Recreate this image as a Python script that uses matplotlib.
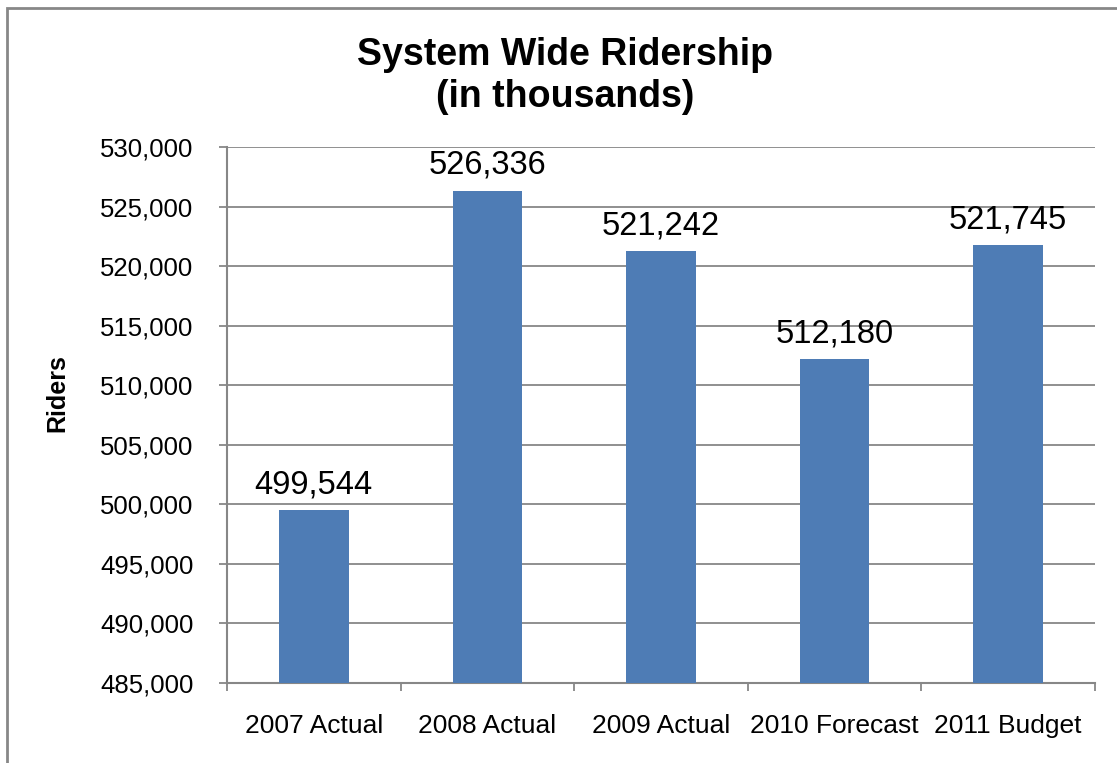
import matplotlib
matplotlib.use("Agg")
from matplotlib import pyplot as plt
from matplotlib.patches import Rectangle
from matplotlib.ticker import FuncFormatter, MultipleLocator

# data
categories = ['2007 Actual', '2008 Actual', '2009 Actual', '2010 Forecast', '2011 Budget']
riders = [499544, 526336, 521242, 512180, 521745]

plt.rcParams['font.family'] = ['Liberation Sans', 'DejaVu Sans']

grey = '#878787'
bar_color = '#4E7CB5'

fig = plt.figure(figsize=(11.17, 7.63), dpi=100)
ax = fig.add_axes([227 / 1117, 1 - 683 / 763, (1095 - 227) / 1117, (683 - 147) / 763])

x = range(len(categories))
bars = ax.bar(x, riders, width=0.4, color=bar_color, zorder=3)

for xi, v in zip(x, riders):
    ax.annotate(f'{v:,}', (xi, v), xytext=(0, 7), textcoords='offset points',
                ha='center', va='bottom', fontsize=23.5)

ax.set_ylim(485000, 530000)
ax.set_xlim(-0.5, len(categories) - 0.5)
ax.yaxis.set_major_locator(MultipleLocator(5000))
ax.yaxis.set_major_formatter(FuncFormatter(lambda v, p: f'{int(v):,}'))
ax.grid(axis='y', color=grey, linewidth=1.3, zorder=0)

ax.set_xticks([i - 0.5 for i in range(len(categories) + 1)], minor=False)
ax.set_xticklabels([])
ax.set_xticks(list(x), minor=True)
ax.set_xticklabels(categories, minor=True)
ax.tick_params(axis='x', which='major', length=6, width=1.3, color=grey, direction='out')
ax.tick_params(axis='x', which='minor', length=0, pad=22, labelsize=19)
ax.tick_params(axis='y', length=6, width=1.3, color=grey, direction='out', pad=18, labelsize=18.5)

for side in ['top', 'right']:
    ax.spines[side].set_visible(False)
for side in ['left', 'bottom']:
    ax.spines[side].set_color(grey)
    ax.spines[side].set_linewidth(1.5)

fig.text(565 / 1117, 1 - 76 / 763, 'System Wide Ridership\n(in thousands)',
         ha='center', va='center', fontsize=27, fontweight='bold', linespacing=1.2)
fig.text(57 / 1117, 1 - 393 / 763, 'Riders', rotation=90, ha='center', va='center',
         fontsize=18, fontweight='bold')

# outer chart frame (runs off the right and bottom edges)
fig.patches.append(Rectangle((7 / 1117, -0.05), 1.2, 1 - 8 / 763 + 0.05,
                             transform=fig.transFigure, fill=False,
                             edgecolor=grey, linewidth=2))

fig.savefig('out.png', dpi=100)
